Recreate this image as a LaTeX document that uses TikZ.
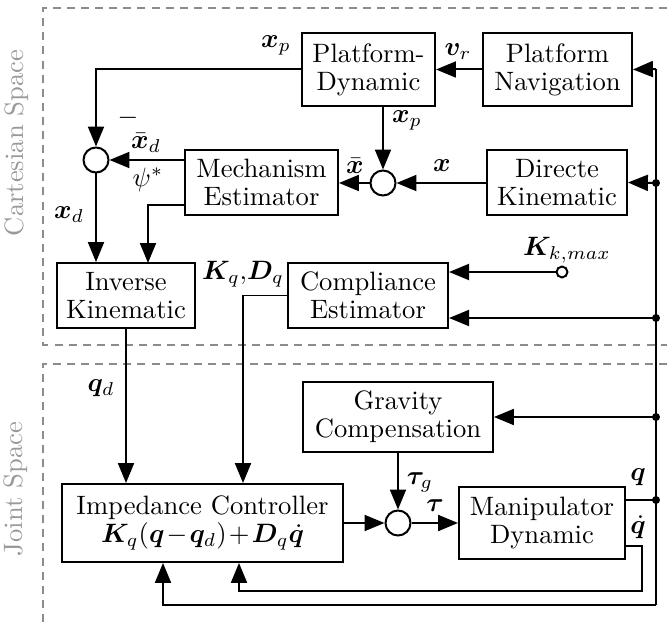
\documentclass[tikz,border=0pt]{standalone}
\usepackage{amsmath,bm}
\usetikzlibrary{arrows.meta,calc}

\begin{document}
\begin{tikzpicture}[x=0.376pt,y=-0.376pt,
  blk/.style={draw, line width=0.75pt, align=center, inner sep=0pt,
    font=\fontsize{10}{10.5}\selectfont},
  sum/.style={draw, circle, line width=0.75pt, minimum size=9.4pt, inner sep=0pt},
  wire/.style={line width=0.75pt},
  arr/.style={line width=0.75pt, -{Triangle[length=7.5pt,width=6pt]}},
  lbl/.style={inner sep=0pt},
  zone/.style={draw=gray!90, dash pattern=on 3pt off 2.3pt, line width=0.6pt},
  zonelbl/.style={rotate=90, text=gray!80, inner sep=0pt}]
\useasboundingbox (0,0) rectangle (667,624);

% domain frames
\draw[zone] (667,8) -- (43,8) -- (43,345) -- (667,345);
\draw[zone] (667,364) -- (43,364) -- (43,624);
\node[zonelbl] (cs) at (17,143) {Cartesian Space};
\node[zonelbl] (js) at (16,489) {Joint Space};

% blocks
\node[blk, minimum width=50pt,   minimum height=27.4pt] (pd) at (368.5,69.5) {Platform-\\Dynamic};
\node[blk, minimum width=56pt,   minimum height=27.4pt] (pn) at (557.5,69.5) {Platform\\Navigation};
\node[blk, minimum width=57.5pt, minimum height=24.4pt] (me) at (261.5,182.5) {Mechanism\\Estimator};
\node[blk, minimum width=52.6pt, minimum height=24.4pt] (dk) at (557,182.5) {Directe\\Kinematic};
\node[blk, minimum width=51.9pt, minimum height=24.4pt] (ik) at (126,295.5) {Inverse\\Kinematic};
\node[blk, minimum width=60.2pt, minimum height=24.4pt] (ce) at (368,295.5) {Compliance\\Estimator};
\node[blk, minimum width=71.4pt, minimum height=26.3pt] (gc) at (398,417) {Gravity\\Compensation};
\node[blk, minimum width=105.7pt, minimum height=29.3pt] (ic) at (202.5,523)
  {Impedance Controller\\$\medmuskip=1.5mu\bm{K}_q(\bm{q}-\bm{q}_d)+\bm{D}_q\dot{\bm{q}}$};
\node[blk, minimum width=62.4pt, minimum height=27.1pt] (md) at (542,523) {Manipulator\\Dynamic};

% summing junctions
\node[sum] (s1) at (383,183) {};
\node[sum] (s2) at (96,160) {};
\node[sum] (s3) at (398,523) {};
\node[draw, circle, line width=0.75pt, minimum size=4.1pt, inner sep=0pt, fill=white] (kc) at (562,272) {};

% feedback bus
\coordinate (bt) at (656,69);
\coordinate (bb) at (656,605);
\coordinate (j1) at (656,183);
\coordinate (j2) at (656,318);
\coordinate (j3) at (656,417);
\coordinate (j4) at (656,500);
\coordinate (ik2) at (148,263);

\draw[wire] (bt) -- (bb);
\draw[arr] (bt) -- (pn.east);
\draw[arr] (j1) -- (dk.east);
\draw[arr] (j2) -- (ce.east |- j2);
\draw[arr] (j3) -- (gc.east);
\draw[wire] (md.east |- j4) -- (j4);
\foreach \j in {j1,j2,j3,j4} \fill (\j) circle (1.5pt);

% Cartesian space signals
\draw[arr] (pn.west) -- (pd.east);
\draw[arr] (pd.west) -| (s2.north);
\draw[arr] (me.west |- s2) -- (s2.east);
\draw[arr] (s2.south) -- (s2 |- ik.north);
\draw[arr] (me.west |- 0,205) -| (ik2);
\draw[arr] (pd.south -| s1) -- (s1.north);
\draw[arr] (s1.west) -- (me.east |- s1);
\draw[arr] (dk.west |- s1) -- (s1.east);
\draw[arr] (kc.west) -- (ce.east |- kc);

% joint space signals
\draw[arr] (ik.south) -- (ic.north -| ik.south);
\draw[arr] (ce.west) -| (ic.north -| 243,0);
\draw[arr] (gc.south) -- (s3.north);
\draw[arr] (ic.east |- s3) -- (s3.west);
\draw[arr] (s3.east) -- (md.west |- s3);
\draw[arr] (md.east |- 0,546) -- (642,546) -- (642,591) -- (239,591) -- (ic.south -| 239,0);
\draw[arr] (bb) -| (ic.south -| 163,0);

% signal labels
\node[lbl] (l1) at (276,45) {$\bm{x}_p$};
\node[lbl] (l2) at (458,52) {$\bm{v}_r$};
\node[lbl] (l3) at (128,118) {$-$};
\node[lbl] (l4) at (146,143) {$\bar{\bm{x}}_d$};
\node[lbl] (l5) at (148,180) {$\psi^*$};
\node[lbl] (l6) at (69,215) {$\bm{x}_d$};
\node[lbl] (l7) at (407,120) {$\bm{x}_p$};
\node[lbl] (l8) at (355,166) {$\bar{\bm{x}}$};
\node[lbl] (l9) at (442,166) {$\bm{x}$};
\node[lbl] (l10) at (567,250) {$\bm{K}_{k,max}$};
\node[lbl] (l11) at (243,274) {$\bm{K}_q{,}\bm{D}_q$};
\node[lbl] (l12) at (101,388) {$\bm{q}_d$};
\node[lbl] (l13) at (420,482) {$\bm{\tau}_g$};
\node[lbl] (l14) at (435,506) {$\bm{\tau}$};
\node[lbl] (l15) at (638,477) {$\bm{q}$};
\node[lbl] (l16) at (638,527) {$\dot{\bm{q}}$};
\end{tikzpicture}
\end{document}
